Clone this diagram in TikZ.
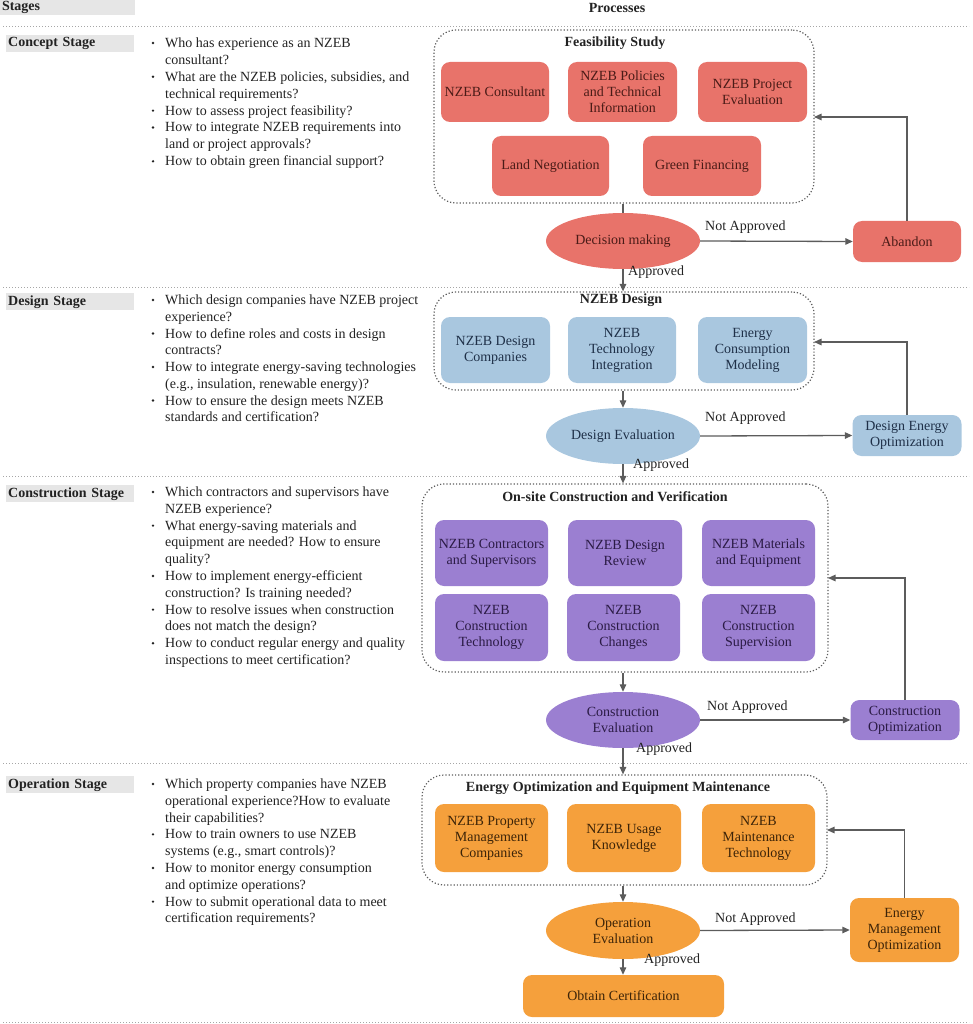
\documentclass[tikz,border=0pt]{standalone}
\usepackage{fontspec}
\setmainfont{Liberation Serif}
\usetikzlibrary{shapes.geometric,arrows.meta,calc}
\definecolor{cred}{HTML}{E8736A}
\definecolor{tred}{HTML}{4A1B17}
\definecolor{cblue}{HTML}{A9C7DF}
\definecolor{tblue}{HTML}{1F3048}
\definecolor{cpurp}{HTML}{9B7FD1}
\definecolor{tpurp}{HTML}{2B1B45}
\definecolor{corng}{HTML}{F5A03C}
\definecolor{torng}{HTML}{3D2408}
\definecolor{lgray}{HTML}{E6E6E6}
\definecolor{cline}{HTML}{5C5C5C}
\definecolor{txt}{HTML}{222222}
\tikzset{
  fnt/.style={font=\fontsize{14}{16}\selectfont},
  pbox/.style={fnt, rectangle, rounded corners=9pt, align=center, inner sep=2pt, minimum height=60pt},
  redbox/.style={pbox, fill=cred, text=tred},
  bluebox/.style={pbox, fill=cblue, text=tblue},
  purpbox/.style={pbox, fill=cpurp, text=tpurp},
  orngbox/.style={pbox, fill=corng, text=torng},
  evalell/.style={fnt, ellipse, inner sep=0pt, minimum width=154pt, minimum height=56pt, align=center},
  container/.style={rectangle, draw=cline, dotted, line width=1.2pt, rounded corners=22pt, inner sep=0pt},
  ctitle/.style={fnt, font=\fontsize{14}{16}\selectfont\bfseries, text=txt, inner sep=0pt},
  sep/.style={draw=gray!70, dotted, line width=1pt},
  stagelbl/.style={fnt, font=\fontsize{14}{16}\selectfont\bfseries, fill=lgray, text=txt, anchor=north west, text width=124pt, align=left, inner xsep=2pt, inner ysep=0pt, minimum height=17pt},
  qtext/.style={fnt, anchor=base west, inner sep=0pt, text=txt},
  bul/.style={circle, fill=txt, inner sep=0pt, minimum size=2.6pt},
  lbl/.style={fnt, text=txt, inner sep=0pt},
  conn/.style={draw=cline, line width=1.3pt},
  arr/.style={conn, -{Triangle[length=7.5pt,width=6.5pt]}},
}
\begin{document}
\begin{tikzpicture}[x=1pt,y=-1pt]
\useasboundingbox (0,0) rectangle (972,1024);
% header
\node[fnt, font=\fontsize{14}{16}\selectfont\bfseries, fill=lgray, text=txt, text width=131pt, align=left, inner xsep=2pt, inner ysep=0pt, minimum height=16pt] (hstages) at (67.5,7) {Stages};
\node[ctitle] (hproc) at (617,7.5) {Processes};
% separators
\foreach \yy [count=\k] in {27,287,476,763,1022} {
  \coordinate (sl\k) at (3,\yy);
  \coordinate (sr\k) at (969,\yy);
  \draw[sep] (sl\k) -- (sr\k);
}
% stage labels
\node[stagelbl] (s1) at (6,35) {Concept Stage};
\node[stagelbl] (s2) at (6,293) {Design Stage};
\node[stagelbl] (s3) at (6,485) {Construction Stage};
\node[stagelbl] (s4) at (6,776) {Operation Stage};
% questions
\foreach \t/\b [count=\i] in {{Who has experience as an NZEB}/1, {consultant?}/0, {What are the NZEB policies, subsidies, and}/1, {technical requirements?}/0, {How to assess project feasibility?}/1, {How to integrate NZEB requirements into}/1, {land or project approvals?}/0, {How to obtain green financial support?}/1} {
  \node[qtext] (qa\i) at (165,{47.5+(\i-1)*16.9}) {\t};
  \ifnum\b=1 \node[bul] (ba\i) at (153,{43+(\i-1)*16.9}) {};\fi
}
\foreach \t/\b [count=\i] in {{Which design companies have NZEB project}/1, {experience?}/0, {How to define roles and costs in design}/1, {contracts?}/0, {How to integrate energy-saving technologies}/1, {(e.g., insulation, renewable energy)?}/0, {How to ensure the design meets NZEB}/1, {standards and certification?}/0} {
  \node[qtext] (qb\i) at (165,{304.5+(\i-1)*16.75}) {\t};
  \ifnum\b=1 \node[bul] (bb\i) at (153,{300+(\i-1)*16.75}) {};\fi
}
\foreach \t/\b [count=\i] in {{Which contractors and supervisors have}/1, {NZEB experience?}/0, {What energy-saving materials and}/1, {equipment are needed? How to ensure}/0, {quality?}/0, {How to implement energy-efficient}/1, {construction? Is training needed?}/0, {How to resolve issues when construction}/1, {does not match the design?}/0, {How to conduct regular energy and quality}/1, {inspections to meet certification?}/0} {
  \node[qtext] (qc\i) at (165,{496.5+(\i-1)*16.8}) {\t};
  \ifnum\b=1 \node[bul] (bc\i) at (153,{492+(\i-1)*16.8}) {};\fi
}
\foreach \t/\b [count=\i] in {{Which property companies have NZEB}/1, {operational experience?How to evaluate}/0, {their capabilities?}/0, {How to train owners to use NZEB}/1, {systems (e.g., smart controls)?}/0, {How to monitor energy consumption}/1, {and optimize operations?}/0, {How to submit operational data to meet}/1, {certification requirements?}/0} {
  \node[qtext] (qd\i) at (165,{788.5+(\i-1)*16.8}) {\t};
  \ifnum\b=1 \node[bul] (bd\i) at (153,{784+(\i-1)*16.8}) {};\fi
}
% ---------- Concept ----------
\node[container, minimum width=380pt, minimum height=173pt] (feas) at (624,116.5) {};
\node[ctitle] (feast) at (615,43) {Feasibility Study};
\node[redbox, minimum width=108pt] (cons) at (495,92) {NZEB Consultant};
\node[redbox, minimum width=109pt] (pol) at (622.5,92) {NZEB Policies\\and Technical\\Information};
\node[redbox, minimum width=109pt] (proj) at (752.5,92) {NZEB Project\\Evaluation};
\node[redbox, minimum width=117pt] (land) at (550.5,166) {Land Negotiation};
\node[redbox, minimum width=118pt] (green) at (702,166) {Green Financing};
\node[evalell, fill=cred, text=tred] (dec) at (623,241) {Decision making};
\node[redbox, minimum width=108pt, minimum height=41pt] (aband) at (907,241.5) {Abandon};
\node[lbl, anchor=west] (na1) at (705,227) {Not Approved};
\node[lbl, anchor=west] (ap1) at (628,272) {Approved};
\coordinate (fb1) at (814,117);
\draw[conn] (dec.north |- feas.south) -- (dec.north);
\draw[arr] (dec.east) -- (aband.west);
\draw[arr] (aband.north) |- (fb1);
% ---------- Design ----------
\node[container, minimum width=380pt, minimum height=98pt] (des) at (624,341) {};
\node[ctitle] (dest) at (621,300) {NZEB Design};
\node[bluebox, minimum width=109pt, minimum height=66pt] (dcomp) at (495.5,350) {NZEB Design\\Companies};
\node[bluebox, minimum width=108pt, minimum height=66pt] (dtech) at (622,350) {NZEB\\Technology\\Integration};
\node[bluebox, minimum width=109pt, minimum height=66pt] (dener) at (752.5,350) {Energy\\Consumption\\Modeling};
\node[evalell, fill=cblue, text=tblue] (dev) at (623,436) {Design Evaluation};
\node[bluebox, minimum width=109pt, minimum height=41pt] (dopt) at (907,435.5) {Design Energy\\Optimization};
\node[lbl, anchor=west] (na2) at (705,418) {Not Approved};
\node[lbl, anchor=west] (ap2) at (633,465) {Approved};
\coordinate (fb2) at (814,342);
\draw[arr] (dec.south) -- (dec.south |- des.north);
\draw[arr] (dev.north |- des.south) -- (dev.north);
\draw[arr] (dev.east) -- (dopt.west);
\draw[arr] (dopt.north) |- (fb2);
% ---------- Construction ----------
\node[container, minimum width=406pt, minimum height=188pt] (con) at (625,578) {};
\node[ctitle] (cont) at (615,497) {On-site Construction and Verification};
\node[purpbox, minimum width=113pt, minimum height=66pt] (c11) at (491.5,553) {NZEB Contractors\\and Supervisors};
\node[purpbox, minimum width=114pt, minimum height=66pt] (c12) at (625,553) {NZEB Design\\Review};
\node[purpbox, minimum width=113pt, minimum height=66pt] (c13) at (758.5,553) {NZEB Materials\\and Equipment};
\node[purpbox, minimum width=113pt, minimum height=67pt] (c21) at (491.5,627.5) {NZEB\\Construction\\Technology};
\node[purpbox, minimum width=113pt, minimum height=67pt] (c22) at (623.5,627.5) {NZEB\\Construction\\Changes};
\node[purpbox, minimum width=113pt, minimum height=67pt] (c23) at (758.5,627.5) {NZEB\\Construction\\Supervision};
\node[evalell, fill=cpurp, text=tpurp] (cev) at (623,720) {Construction\\Evaluation};
\node[purpbox, minimum width=109pt, minimum height=40pt] (copt) at (905,720) {Construction\\Optimization};
\node[lbl, anchor=west] (na3) at (707,707) {Not Approved};
\node[lbl, anchor=west] (ap3) at (636,749) {Approved};
\coordinate (fb3) at (828,578);
\draw[arr] (dev.south) -- (dev.south |- con.north);
\draw[arr] (cev.north |- con.south) -- (cev.north);
\draw[arr] (cev.east) -- (copt.west);
\draw[arr] (copt.north) |- (fb3);
% ---------- Operation ----------
\node[container, minimum width=405pt, minimum height=110pt] (op) at (624.5,830) {};
\node[ctitle] (opt) at (618,788) {Energy Optimization and Equipment Maintenance};
\node[orngbox, minimum width=113pt, minimum height=68pt] (o1) at (491.5,838) {NZEB Property\\Management\\Companies};
\node[orngbox, minimum width=114pt, minimum height=68pt] (o2) at (624,838) {NZEB Usage\\Knowledge};
\node[orngbox, minimum width=113pt, minimum height=68pt] (o3) at (758.5,838) {NZEB\\Maintenance\\Technology};
\node[evalell, fill=corng, text=torng, minimum height=57pt] (oev) at (623,930.5) {Operation\\Evaluation};
\node[orngbox, minimum width=109pt, minimum height=64pt] (oopt) at (904.5,930) {Energy\\Management\\Optimization};
\node[orngbox, minimum width=201pt, minimum height=42pt] (cert) at (623.5,996) {Obtain Certification};
\node[lbl, anchor=west] (na4) at (715,919) {Not Approved};
\node[lbl, anchor=west] (ap4) at (644,960) {Approved};
\coordinate (fb4) at (827,830);
\draw[arr] (cev.south) -- (cev.south |- op.north);
\draw[arr] (oev.north |- op.south) -- (oev.north);
\draw[arr] (oev.east) -- (oopt.west);
\draw[arr] (oopt.north) |- (fb4);
\draw[arr] (oev.south) -- (oev.south |- cert.north);
\end{tikzpicture}
\end{document}
